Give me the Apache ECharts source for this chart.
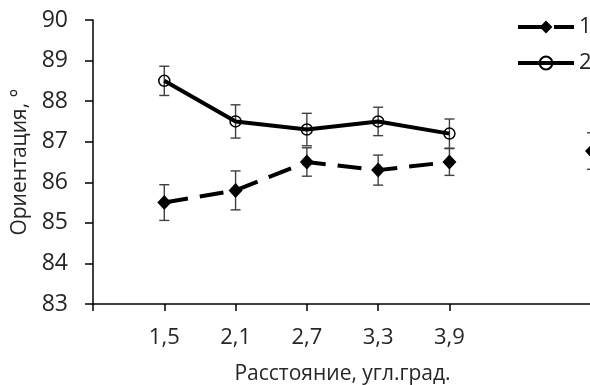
<!DOCTYPE html>
<html>
<head>
<meta charset="utf-8">
<script src="https://cdn.jsdelivr.net/npm/echarts@6/dist/echarts.min.js"></script>
<style>
  html, body { margin: 0; padding: 0; background: #fff; overflow: hidden; }
  #chart { width: 590px; height: 385px; }
</style>
</head>
<body>
<div id="chart"></div>
<script>
// Distance categories (deg of visual angle); blank slots keep the axis spacing
const categories = ['', '1,5', '2,1', '2,7', '3,3', '3,9', '', ''];
const lastTickSlot = 5;

// Orientation means and error half-widths per category
const series1 = [null, 85.5, 85.8, 86.5, 86.3, 86.5, null, 86.77];
const series1Err = [null, 0.44, 0.48, 0.35, 0.37, 0.33, null, 0.45];
const series2 = [null, 88.5, 87.5, 87.3, 87.5, 87.2, null, null];
const series2Err = [null, 0.36, 0.41, 0.40, 0.35, 0.36, null, null];

const yTicks = [83, 84, 85, 86, 87, 88, 89, 90];

const FONT = 'Open Sans';
const TEXT = '#262626';

function errorData(values, errs) {
  const out = [];
  values.forEach(function (v, i) {
    if (v != null && errs[i] != null) out.push([i, v - errs[i], v + errs[i]]);
  });
  return out;
}

function renderErrorBar(params, api) {
  const x = api.value(0);
  const lo = api.coord([x, api.value(1)]);
  const hi = api.coord([x, api.value(2)]);
  const half = 5;
  const style = { stroke: '#404040', lineWidth: 1.4 };
  return {
    type: 'group',
    children: [
      { type: 'line', shape: { x1: lo[0], y1: lo[1], x2: hi[0], y2: hi[1] }, style: style },
      { type: 'line', shape: { x1: lo[0] - half, y1: lo[1], x2: lo[0] + half, y2: lo[1] }, style: style },
      { type: 'line', shape: { x1: hi[0] - half, y1: hi[1], x2: hi[0] + half, y2: hi[1] }, style: style }
    ]
  };
}

const chart = echarts.init(document.getElementById('chart'), null, { renderer: 'canvas' });

chart.setOption({
  animation: false,
  backgroundColor: '#fff',
  textStyle: { fontFamily: FONT, color: TEXT },
  grid: {
    left: 93, top: 20, width: 499, height: 284,
    containLabel: false,
    outerBoundsMode: 'none'
  },
  legend: {
    orient: 'vertical',
    left: 516,
    top: 16,
    padding: 0,
    itemWidth: 56,
    itemHeight: 16,
    itemGap: 14,
    data: ['1', '2'],
    lineStyle: { width: 4, type: 'inherit' },
    textStyle: { fontFamily: FONT, fontSize: 22, lineHeight: 20, color: TEXT }
  },
  xAxis: {
    type: 'category',
    data: categories,
    boundaryGap: false,
    name: 'Расстояние, угл.град.',
    nameLocation: 'middle',
    nameGap: 60,
    nameTextStyle: { fontFamily: FONT, fontSize: 21, color: TEXT },
    axisLine: { lineStyle: { color: '#000', width: 1.5 } },
    axisTick: {
      show: true,
      inside: false,
      length: 7,
      interval: function (idx) { return idx <= lastTickSlot; },
      lineStyle: { color: '#000', width: 1.5 }
    },
    axisLabel: {
      interval: 0,
      margin: 23,
      fontFamily: FONT,
      fontSize: 22,
      color: TEXT
    },
    splitLine: { show: false }
  },
  yAxis: {
    type: 'value',
    min: yTicks[0],
    max: yTicks[yTicks.length - 1],
    interval: 1,
    name: 'Ориентация, °',
    nameLocation: 'middle',
    nameGap: 62,
    nameTextStyle: { fontFamily: FONT, fontSize: 21, color: TEXT },
    axisLine: { show: true, lineStyle: { color: '#000', width: 1.5 } },
    axisTick: { show: true, inside: false, length: 8, lineStyle: { color: '#000', width: 1.5 } },
    axisLabel: { margin: 25, fontFamily: FONT, fontSize: 23, color: TEXT },
    splitLine: { show: false }
  },
  series: [
    {
      type: 'custom',
      name: 'err1',
      renderItem: renderErrorBar,
      data: errorData(series1, series1Err),
      z: 1,
      clip: false
    },
    {
      type: 'custom',
      name: 'err2',
      renderItem: renderErrorBar,
      data: errorData(series2, series2Err),
      z: 1,
      clip: false
    },
    {
      type: 'line',
      name: '1',
      data: series1,
      showAllSymbol: true,
      clip: false,
      symbol: 'diamond',
      symbolSize: [14, 15],
      connectNulls: false,
      lineStyle: { color: '#000', width: 4, type: [24, 12] },
      itemStyle: { color: '#000', borderColor: '#000', borderWidth: 0 },
      z: 3
    },
    {
      type: 'line',
      name: '2',
      data: series2,
      showAllSymbol: true,
      clip: false,
      symbol: 'circle',
      symbolSize: 11,
      connectNulls: false,
      lineStyle: { color: '#000', width: 4 },
      itemStyle: { color: 'rgba(255,255,255,0)', borderColor: '#000', borderWidth: 1.5 },
      z: 3
    }
  ]
});
</script>
</body>
</html>
